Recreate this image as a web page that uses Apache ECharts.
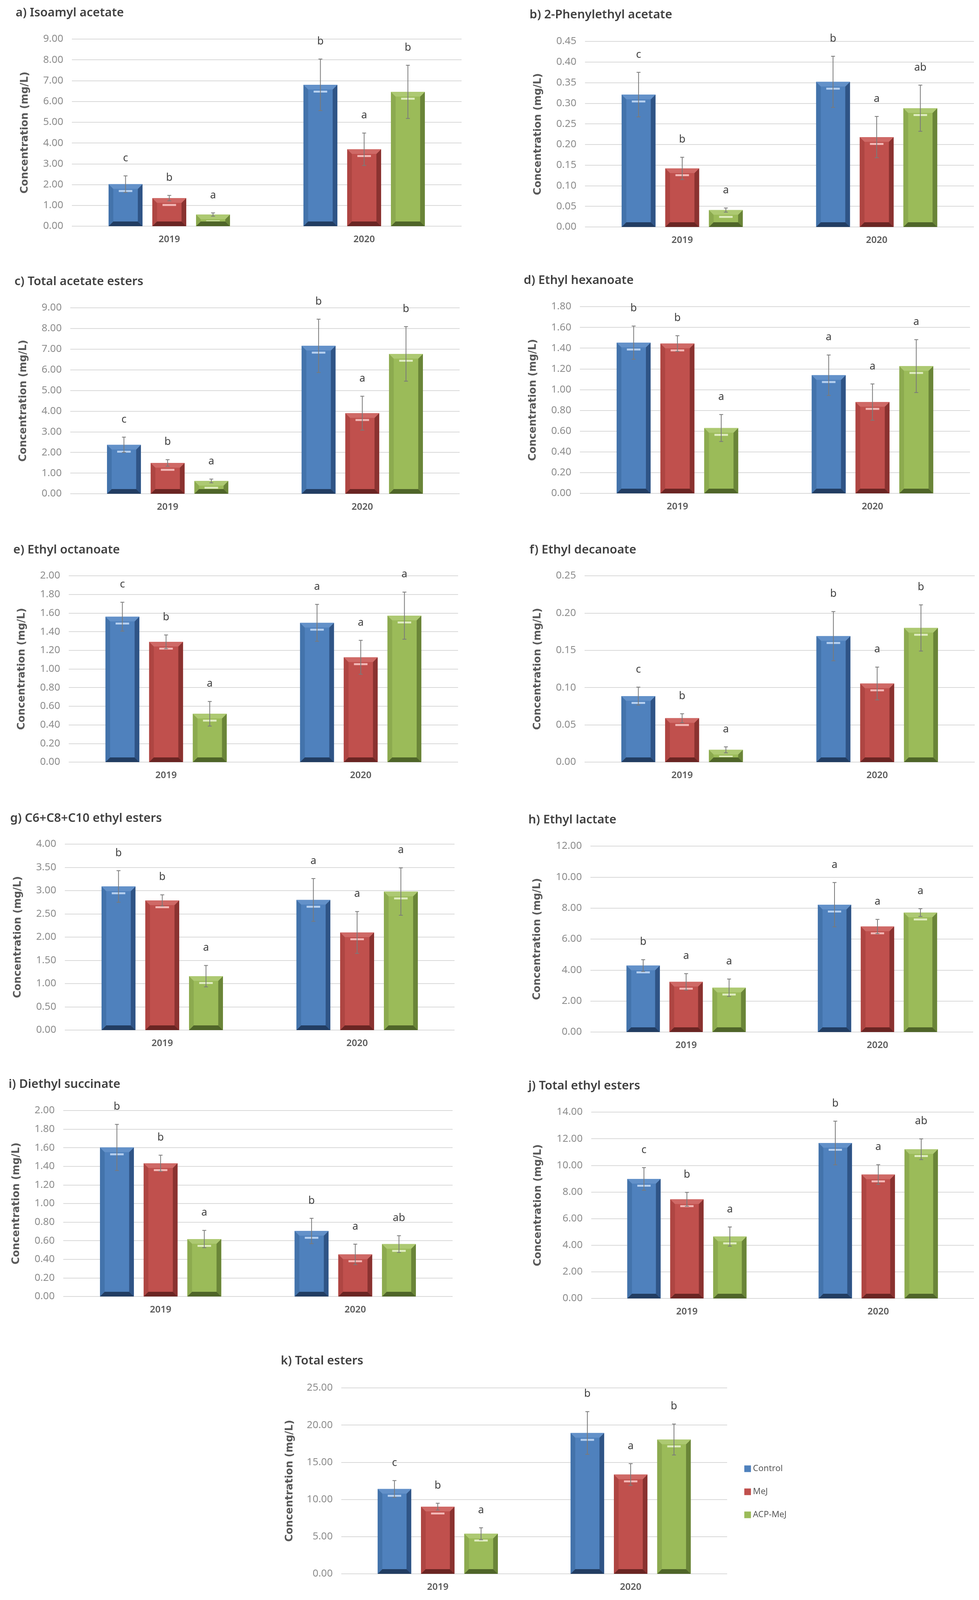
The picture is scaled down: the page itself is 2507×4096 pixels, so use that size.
<!DOCTYPE html>
<html>
<head>
<meta charset="utf-8">
<script src="https://cdn.jsdelivr.net/npm/echarts@6/dist/echarts.min.js"></script>
<style>
html,body{margin:0;padding:0;background:#fff;}
#c{width:2507px;height:4096px;}
</style>
</head>
<body>
<div id="c"></div>
<script>
// ---------- data ----------
const years = ['2019', '2020'];
const treatments = ['Control', 'MeJ', 'ACP-MeJ'];
const panelTitles = ['a) Isoamyl acetate', 'b) 2-Phenylethyl acetate', 'c) Total acetate esters',
  'd) Ethyl hexanoate', 'e) Ethyl octanoate', 'f) Ethyl decanoate', 'g) C6+C8+C10 ethyl esters',
  'h) Ethyl lactate', 'i) Diethyl succinate', 'j) Total ethyl esters', 'k) Total esters'];
const axisMax = [9, 0.45, 9, 1.8, 2.0, 0.25, 4.0, 12, 2.0, 14, 25];
const axisStep = [1, 0.05, 1, 0.2, 0.2, 0.05, 0.5, 2, 0.2, 2, 5];
// order of each array: 2019 Control, MeJ, ACP-MeJ, 2020 Control, MeJ, ACP-MeJ
const isoamylMean = [2.02, 1.35, 0.56, 6.80, 3.70, 6.46];
const isoamylErr = [0.40, 0.13, 0.08, 1.24, 0.78, 1.28];
const isoamylSig = ['c', 'b', 'a', 'b', 'a', 'b'];
const phenylMean = [0.321, 0.142, 0.041, 0.352, 0.218, 0.288];
const phenylErr = [0.054, 0.027, 0.005, 0.062, 0.050, 0.056];
const phenylSig = ['c', 'b', 'a', 'b', 'a', 'ab'];
const acetateMean = [2.37, 1.49, 0.62, 7.16, 3.90, 6.77];
const acetateErr = [0.37, 0.16, 0.09, 1.29, 0.82, 1.32];
const acetateSig = ['c', 'b', 'a', 'b', 'a', 'b'];
const hexMean = [1.453, 1.444, 0.630, 1.139, 0.880, 1.227];
const hexErr = [0.160, 0.076, 0.130, 0.195, 0.175, 0.255];
const hexSig = ['b', 'b', 'a', 'a', 'a', 'a'];
const octMean = [1.561, 1.291, 0.519, 1.495, 1.125, 1.572];
const octErr = [0.155, 0.074, 0.132, 0.198, 0.182, 0.253];
const octSig = ['c', 'b', 'a', 'a', 'a', 'a'];
const decMean = [0.0886, 0.0589, 0.0165, 0.169, 0.1055, 0.180];
const decErr = [0.012, 0.006, 0.004, 0.033, 0.022, 0.031];
const decSig = ['c', 'b', 'a', 'b', 'a', 'b'];
const c6c10Mean = [3.09, 2.79, 1.16, 2.80, 2.10, 2.98];
const c6c10Err = [0.34, 0.12, 0.23, 0.46, 0.45, 0.51];
const c6c10Sig = ['b', 'b', 'a', 'a', 'a', 'a'];
const lactateMean = [4.29, 3.24, 2.86, 8.22, 6.81, 7.71];
const lactateErr = [0.38, 0.53, 0.56, 1.43, 0.46, 0.25];
const lactateSig = ['b', 'a', 'a', 'a', 'a', 'a'];
const succMean = [1.603, 1.433, 0.618, 0.705, 0.453, 0.564];
const succErr = [0.248, 0.087, 0.093, 0.136, 0.110, 0.090];
const succSig = ['b', 'b', 'a', 'b', 'a', 'ab'];
const ethylMean = [8.98, 7.45, 4.65, 11.68, 9.31, 11.21];
const ethylErr = [0.85, 0.52, 0.72, 1.64, 0.74, 0.78];
const ethylSig = ['c', 'b', 'a', 'b', 'a', 'ab'];
const totalMean = [11.41, 9.03, 5.39, 18.94, 13.36, 18.06];
const totalErr = [1.13, 0.46, 0.80, 2.87, 1.46, 2.08];
const totalSig = ['c', 'b', 'a', 'b', 'a', 'b'];

const panelMeans = [isoamylMean, phenylMean, acetateMean, hexMean, octMean, decMean, c6c10Mean, lactateMean, succMean, ethylMean, totalMean];
const panelErrs = [isoamylErr, phenylErr, acetateErr, hexErr, octErr, decErr, c6c10Err, lactateErr, succErr, ethylErr, totalErr];
const panelSigs = [isoamylSig, phenylSig, acetateSig, hexSig, octSig, decSig, c6c10Sig, lactateSig, succSig, ethylSig, totalSig];

// ---------- layout & style ----------
const layout = [
  {l: 184, r: 1182, t: 100, b: 579, tx: 40, ty: 33, ng: 107},
  {l: 1498, r: 2494, t: 106, b: 581, tx: 1356, ty: 38, ng: 107},
  {l: 180, r: 1177, t: 788, b: 1264, tx: 37, ty: 721, ng: 107},
  {l: 1485, r: 2484, t: 785, b: 1263, tx: 1341, ty: 718, ng: 107},
  {l: 176, r: 1173, t: 1474, b: 1951, tx: 34, ty: 1408, ng: 107},
  {l: 1497, r: 2496, t: 1474, b: 1951, tx: 1356, ty: 1408, ng: 107},
  {l: 166, r: 1164, t: 2161, b: 2637, tx: 26, ty: 2095, ng: 107},
  {l: 1512, r: 2492, t: 2166, b: 2642, tx: 1353, ty: 2099, ng: 123},
  {l: 162, r: 1159, t: 2843, b: 3319, tx: 22, ty: 2776, ng: 107},
  {l: 1514, r: 2494, t: 2847, b: 3324, tx: 1353, ty: 2780, ng: 123},
  {l: 874, r: 1862, t: 3553, b: 4029, tx: 719, ty: 3484, ng: 119}
];
const palettes = [
  {face: '#4f81bd', left: '#4373ab', right: '#2f5486', bottom: '#223d62', top: '#6391c9', stripe: '#b6d0f0'},
  {face: '#c0504d', left: '#ae4542', right: '#8a3230', bottom: '#6a2523', top: '#cf6966', stripe: '#f3b8b6'},
  {face: '#9bbb59', left: '#8caa4f', right: '#6a8538', bottom: '#4f6529', top: '#adc972', stripe: '#dfecc0'}
];
const FONT = '"Noto Sans", "Open Sans", sans-serif';
const NAMEFONT = '"DejaVu Sans", "Noto Sans", sans-serif';

const chart = echarts.init(document.getElementById('c'));

const grids = [], xAxes = [], yAxes = [], titles = [], series = [];
layout.forEach((L, p) => {
  grids.push({left: L.l, top: L.t, width: L.r - L.l, height: L.b - L.t, containLabel: false});
  titles.push({
    text: panelTitles[p], left: L.tx, top: L.ty - 19, padding: 0,
    textStyle: {fontFamily: FONT, fontSize: 31, fontWeight: 600, color: '#404040', lineHeight: 38}
  });
  xAxes.push({
    type: 'category', gridIndex: p, data: years,
    axisLine: {show: false}, axisTick: {show: false},
    axisLabel: {fontFamily: FONT, fontSize: 24, fontWeight: 600, color: '#595959', margin: 22}
  });
  yAxes.push({
    type: 'value', gridIndex: p, min: 0, max: axisMax[p], interval: axisStep[p],
    name: 'Concentration (mg/L)', nameLocation: 'middle', nameGap: L.ng, nameRotate: 90,
    nameTextStyle: {fontFamily: NAMEFONT, fontSize: 26, fontWeight: 'bold', color: '#595959'},
    axisLine: {show: false}, axisTick: {show: false},
    axisLabel: {fontFamily: FONT, fontSize: 26, color: '#8c8c8c', margin: 22,
      formatter: v => v.toFixed(2)},
    splitLine: {show: true, lineStyle: {color: '#d9d9d9', width: 2}}
  });
  treatments.forEach((tName, t) => {
    const pal = palettes[t];
    const data = years.map((y, yi) => [yi, panelMeans[p][yi * 3 + t], panelErrs[p][yi * 3 + t]]);
    series.push({
      type: 'custom', name: tName, xAxisIndex: p, yAxisIndex: p,
      itemStyle: {color: pal.face},
      encode: {x: 0, y: 1},
      data: data,
      renderItem: function (params, api) {
        const cat = api.value(0), v = api.value(1), e = api.value(2);
        const base = api.coord([cat, 0]);
        const topP = api.coord([cat, v]);
        const band = api.size([1, 0])[0];
        const bw = band * 0.174, gap = bw * 0.29;
        const cx = base[0] + (t - 1) * (bw + gap);
        const x0 = cx - bw / 2, x1 = cx + bw / 2;
        const y0 = topP[1], y1 = base[1];
        const h = y1 - y0;
        const d = Math.min(12, h / 2.2, bw / 5);
        const eTop = api.coord([cat, v + e])[1];
        const eBot = api.coord([cat, Math.max(0, v - e)])[1];
        const letter = panelSigs[p][params.dataIndex * 3 + t];
        const cap = 5;
        const errStyle = {stroke: '#7a7a7a', lineWidth: 2};
        return {
          type: 'group',
          children: [
            {type: 'rect', shape: {x: x0, y: y0, width: bw, height: h}, style: {fill: pal.face}},
            {type: 'polygon', shape: {points: [[x0, y0], [x0 + d, y0 + d], [x0 + d, y1 - d], [x0, y1]]}, style: {fill: pal.left}},
            {type: 'polygon', shape: {points: [[x1, y0], [x1 - d, y0 + d], [x1 - d, y1 - d], [x1, y1]]}, style: {fill: pal.right}},
            {type: 'polygon', shape: {points: [[x0, y1], [x1, y1], [x1 - d, y1 - d], [x0 + d, y1 - d]]}, style: {fill: pal.bottom}},
            {type: 'polygon', shape: {points: [[x0, y0], [x1, y0], [x1 - d, y0 + d], [x0 + d, y0 + d]]}, style: {fill: pal.top}},
            {type: 'rect', shape: {x: x0 + bw * 0.3, y: y0 + d + 3, width: bw * 0.4, height: Math.min(5, Math.max(1, h - d * 2 - 4))}, style: {fill: pal.stripe}},
            {type: 'line', shape: {x1: cx, y1: eTop, x2: cx, y2: eBot}, style: errStyle},
            {type: 'line', shape: {x1: cx - cap, y1: eTop, x2: cx + cap, y2: eTop}, style: errStyle},
            {type: 'line', shape: {x1: cx - cap, y1: eBot, x2: cx + cap, y2: eBot}, style: errStyle},
            {type: 'text', style: {text: letter, x: cx, y: eTop - 45, fill: '#404040',
              font: '27px ' + FONT, textAlign: 'center', textVerticalAlign: 'middle',
              align: 'center', verticalAlign: 'middle'}}
          ]
        };
      }
    });
  });
});

chart.setOption({
  animation: false,
  backgroundColor: '#ffffff',
  title: titles,
  grid: grids,
  xAxis: xAxes,
  yAxis: yAxes,
  legend: {
    data: treatments, orient: 'vertical', left: 1901, top: 3744,
    icon: 'rect', itemWidth: 17, itemHeight: 17, itemGap: 37,
    textStyle: {fontFamily: FONT, fontSize: 22, color: '#595959'}
  },
  series: series
});
</script>
</body>
</html>
